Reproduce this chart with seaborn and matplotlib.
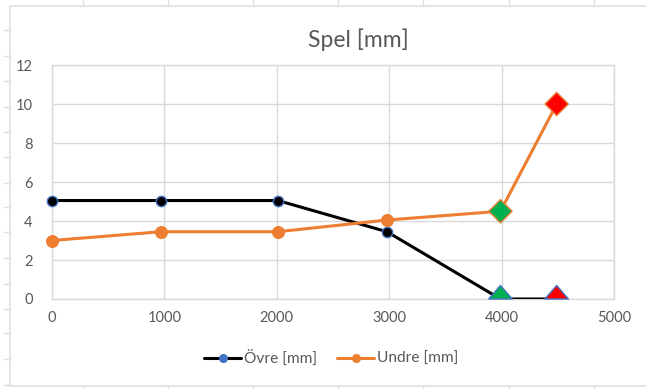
import matplotlib
matplotlib.use("Agg")
import matplotlib.pyplot as plt
from matplotlib.lines import Line2D
import seaborn as sns
import pandas as pd

# Measured play at each position
position = [0, 970, 2010, 2980, 3990, 4490]
ovre = [5.05, 5.05, 5.05, 3.45, 0.0, 0.0]
undre = [3.0, 3.45, 3.45, 4.05, 4.5, 10.0]
series_names = ["Övre [mm]", "Undre [mm]"]
title_text = "Spel [mm]"
x_ticks = [0, 1000, 2000, 3000, 4000, 5000]
y_ticks = [0, 2, 4, 6, 8, 10, 12]

BLUE = "#4472C4"
ORANGE = "#ED7D31"
GREEN = "#00B050"
RED = "#FF0000"
GRID = "#D9D9D9"
TEXT = "#595959"

sns.set_theme(style="white")
plt.rcParams["font.family"] = ["Lato", "DejaVu Sans"]

df = pd.DataFrame({"pos": position, "ovre": ovre, "undre": undre})

W, H = 646, 389
fig = plt.figure(figsize=(W / 100, H / 100), dpi=100)
fig.patch.set_facecolor("white")

# Worksheet frame behind the chart
def fx(px):
    return px / W

def fy(py):
    return 1 - py / H

fig.add_artist(Line2D([fx(10), fx(10)], [fy(6), fy(386)], color="#E6E6E6", lw=1.5))
fig.add_artist(Line2D([fx(10), 1], [fy(6), fy(6)], color="#E6E6E6", lw=1.5))
fig.add_artist(Line2D([fx(10), 1], [fy(386), fy(386)], color="#E6E6E6", lw=1.5))
for ty in [30, 56, 81, 107, 132, 157, 183, 207, 232, 258, 284, 309, 333, 359, 385]:
    fig.add_artist(Line2D([fx(4), fx(10)], [fy(ty), fy(ty)], color="#E0E0E0", lw=1))
for tx in [83, 168, 253, 338, 423, 509, 594]:
    fig.add_artist(Line2D([fx(tx), fx(tx)], [fy(0), fy(5)], color="#E0E0E0", lw=1))
    fig.add_artist(Line2D([fx(tx), fx(tx)], [fy(386), fy(389)], color="#E0E0E0", lw=1))

ax = fig.add_axes([52 / W, 1 - 299 / H, (614 - 52) / W, (299 - 65) / H])
ax.set_facecolor("white")

sns.lineplot(data=df, x="pos", y="ovre", ax=ax, color="black", lw=2.2, zorder=3)
sns.lineplot(data=df, x="pos", y="undre", ax=ax, color=ORANGE, lw=2.2, zorder=4)

# Circle markers for the first four positions
head = df.iloc[:4]
tail = df.iloc[4:]
sns.scatterplot(data=head, x="pos", y="ovre", ax=ax, s=55, color="black",
                edgecolor=BLUE, linewidth=1.0, zorder=5, clip_on=False)
sns.scatterplot(data=head, x="pos", y="undre", ax=ax, s=70, color=ORANGE,
                edgecolor=ORANGE, linewidth=1.0, zorder=6, clip_on=False)

# Highlighted end positions: triangles standing on the axis, diamonds above
tri_up = [(-1.0, 0.0), (1.0, 0.0), (0.0, 1.15), (-1.0, 0.0)]
sns.scatterplot(data=tail, x="pos", y="ovre", ax=ax, s=380, marker=tri_up,
                hue="pos", palette=[GREEN, RED], edgecolor=BLUE, linewidth=1.0,
                zorder=8, legend=False, clip_on=False)
sns.scatterplot(data=tail, x="pos", y="undre", ax=ax, s=140, marker="D",
                hue="pos", palette=[GREEN, RED], edgecolor=ORANGE, linewidth=1.0,
                zorder=7, legend=False, clip_on=False)

ax.set_xlim(0, 5000)
ax.set_ylim(0, 12)
ax.set_xticks(x_ticks)
ax.set_yticks(y_ticks)
ax.set_xlabel("")
ax.set_ylabel("")
ax.grid(True, color=GRID, lw=1.0)
ax.set_axisbelow(True)
for sp in ax.spines.values():
    sp.set_color(GRID)
    sp.set_linewidth(1.0)
ax.tick_params(axis="both", length=0, labelsize=10.5, colors=TEXT)
ax.tick_params(axis="y", pad=14)
ax.tick_params(axis="x", pad=9)

fig.text(358 / W, 1 - 40 / H, title_text, ha="center", va="center",
         fontsize=16.5, color=TEXT)

handles = [
    Line2D([], [], color="black", lw=2.2, marker="o", markersize=5.5,
           markerfacecolor=BLUE, markeredgecolor=BLUE),
    Line2D([], [], color=ORANGE, lw=2.2, marker="o", markersize=5.5,
           markerfacecolor=ORANGE, markeredgecolor=ORANGE),
]
fig.legend(handles, series_names, loc="center", bbox_to_anchor=(331 / W, 1 - 358 / H),
           ncol=2, frameon=False, fontsize=11.2, labelcolor=TEXT,
           handlelength=2.4, handletextpad=0.15, columnspacing=1.3)

fig.savefig("out.png", dpi=100, facecolor="white")
